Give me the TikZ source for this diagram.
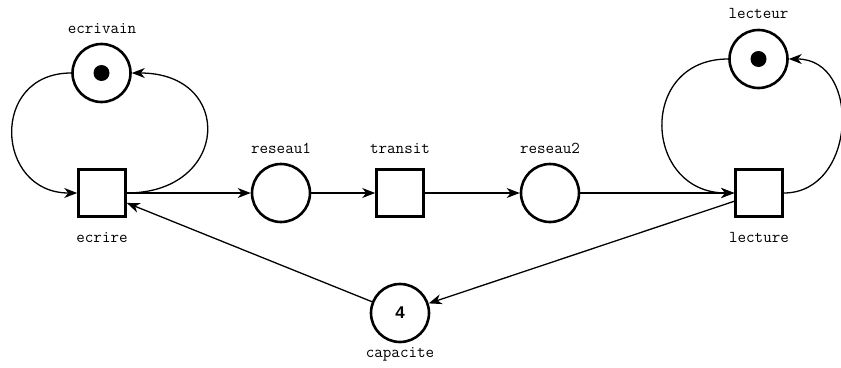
\documentclass[tikz,border=0pt]{standalone}
\usepackage{fontspec}
\newfontfamily\numfont{Liberation Sans}
\usetikzlibrary{arrows.meta}
\tikzset{
  place/.style={circle, draw, line width=2.6pt, minimum size=58pt, inner sep=0pt},
  trans/.style={rectangle, draw, line width=2.6pt, minimum size=47pt, inner sep=0pt},
  token/.style={circle, fill=black, minimum size=16pt, inner sep=0pt},
  lbl/.style={anchor=base, font=\ttfamily\fontsize{16.6pt}{18pt}\selectfont, inner sep=0pt},
  arc/.style={line width=1.3pt, -{Stealth[length=13pt, width=10pt, inset=4pt]}}
}
\begin{document}
\begin{tikzpicture}[x=1pt, y=-1pt]
\useasboundingbox (0,0) rectangle (841,367);
% places
\node[place] (ecrivain) at (101.5,73) {};
\node[token] (tokE) at (101.5,73) {};
\node[place] (reseau1) at (281,193) {};
\node[place] (reseau2) at (550,193) {};
\node[place] (lecteur) at (758.5,59) {};
\node[token] (tokL) at (758.5,59) {};
\node[place] (capacite) at (400,313) {\numfont\bfseries\fontsize{17pt}{19pt}\selectfont 4};
% transitions
\node[trans] (ecrire) at (102,193) {};
\node[trans] (transit) at (400,193) {};
\node[trans] (lecture) at (759,193) {};
% labels
\node[lbl] (lEcrivain) at (102,33) {ecrivain};
\node[lbl] (lEcrire) at (102,242) {ecrire};
\node[lbl] (lReseau1) at (281,153) {reseau1};
\node[lbl] (lTransit) at (400,153) {transit};
\node[lbl] (lReseau2) at (550,153) {reseau2};
\node[lbl] (lLecteur) at (758.5,18) {lecteur};
\node[lbl] (lLecture) at (759,242) {lecture};
\node[lbl] (lCapacite) at (400,357) {capacite};
% arcs
\draw[arc] (ecrivain.west) .. controls +(-82,0) and +(-82,0) .. (ecrire.west);
\draw[arc] (ecrire.east) .. controls +(103,0) and +(103,0) .. (ecrivain.east);
\draw[arc] (lecteur.west) .. controls +(-91,0) and +(-91,0) .. (lecture.west);
\draw[arc] (lecture.east) .. controls +(73,0) and +(73,0) .. (lecteur.east);
\draw[arc] (ecrire.east) -- (reseau1.west);
\draw[arc] (reseau1.east) -- (transit.west);
\draw[arc] (transit.east) -- (reseau2.west);
\draw[arc] (reseau2.east) -- (lecture.west);
\draw[arc] (lecture) -- (capacite);
\draw[arc] (capacite) -- (ecrire);
\end{tikzpicture}
\end{document}
